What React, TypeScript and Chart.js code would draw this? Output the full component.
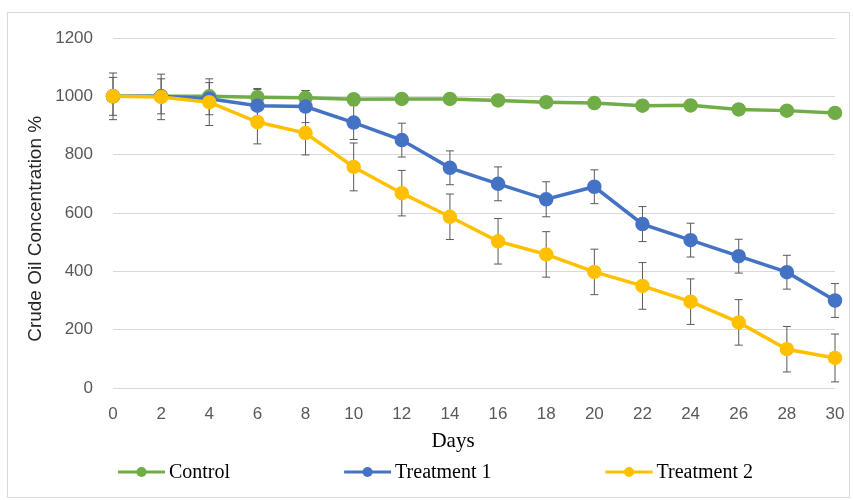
import React, { useEffect, useRef } from "react";
import { Chart, registerables } from "chart.js";

Chart.register(...registerables);

const days = ["0", "2", "4", "6", "8", "10", "12", "14", "16", "18", "20", "22", "24", "26", "28", "30"];
const controlValues = [1000, 1000, 1000, 997, 995, 990, 991, 991, 986, 980, 977, 968, 969, 955, 951, 943];
const controlErrors = [15, 15, 15, 30, 25, 12, 12, 12, 12, 12, 12, 12, 12, 12, 12, 12];
const treatment1Values = [1000, 1000, 992, 968, 965, 910, 850, 755, 700, 647, 690, 562, 507, 452, 397, 300];
const treatment1Errors = [65, 60, 55, 55, 55, 58, 58, 58, 58, 60, 58, 60, 58, 58, 58, 58];
const treatment2Values = [1000, 998, 980, 912, 874, 758, 668, 587, 503, 458, 398, 350, 296, 225, 133, 103];
const treatment2Errors = [80, 78, 80, 75, 75, 82, 78, 78, 78, 78, 78, 80, 78, 78, 78, 82];
const yTicks = [0, 200, 400, 600, 800, 1000, 1200];

const seriesNames = ["Control", "Treatment 1", "Treatment 2"];
const seriesColors = ["#70AD47", "#4472C4", "#FFC000"];

const SERIF = "'Liberation Serif', 'Times New Roman', serif";
const SANS = "'Liberation Sans', Arial, sans-serif";

const errorBarPlugin = {
  id: "errorBars",
  beforeDatasetsDraw(chart: any) {
    const { ctx } = chart;
    const yScale = chart.scales.y;
    chart.data.datasets.forEach((ds: any, i: number) => {
      const meta = chart.getDatasetMeta(i);
      const errs: number[] = ds.errors || [];
      meta.data.forEach((pt: any, j: number) => {
        const v = ds.data[j];
        const e = errs[j] || 0;
        const top = yScale.getPixelForValue(v + e);
        const bot = yScale.getPixelForValue(v - e);
        const x = pt.x;
        ctx.save();
        ctx.strokeStyle = "#595959";
        ctx.lineWidth = 1;
        ctx.beginPath();
        ctx.moveTo(x, top);
        ctx.lineTo(x, bot);
        ctx.moveTo(x - 4, top);
        ctx.lineTo(x + 4, top);
        ctx.moveTo(x - 4, bot);
        ctx.lineTo(x + 4, bot);
        ctx.stroke();
        ctx.restore();
      });
    });
  },
};

const legendPlugin = {
  id: "customLegend",
  afterDraw(chart: any) {
    const { ctx } = chart;
    const lineLen = 47;
    const textGap = 4;
    const itemGap = 114;
    ctx.save();
    ctx.font = `20px ${SERIF}`;
    const items = chart.data.datasets.map((ds: any) => ({
      label: ds.label,
      color: ds.borderColor,
      w: lineLen + textGap + ctx.measureText(ds.label).width,
    }));
    const total = items.reduce((s: number, it: any) => s + it.w, 0) + itemGap * (items.length - 1);
    let x = chart.width / 2 + 7 - total / 2;
    const y = chart.height - 25;
    items.forEach((it: any) => {
      ctx.strokeStyle = it.color;
      ctx.lineWidth = 3;
      ctx.beginPath();
      ctx.moveTo(x, y);
      ctx.lineTo(x + lineLen, y);
      ctx.stroke();
      ctx.fillStyle = it.color;
      ctx.beginPath();
      ctx.arc(x + lineLen / 2, y, 5, 0, Math.PI * 2);
      ctx.fill();
      ctx.fillStyle = "#000000";
      ctx.textAlign = "left";
      ctx.textBaseline = "middle";
      ctx.fillText(it.label, x + lineLen + textGap, y + 1);
      x += it.w + itemGap;
    });
    ctx.restore();
  },
};

export default function App() {
  const canvasRef = useRef<HTMLCanvasElement | null>(null);

  useEffect(() => {
    if (!canvasRef.current) return;
    const valuesList = [controlValues, treatment1Values, treatment2Values];
    const errorsList = [controlErrors, treatment1Errors, treatment2Errors];
    const chart = new Chart(canvasRef.current, {
      type: "line",
      data: {
        labels: days,
        datasets: seriesNames.map((name, i) => ({
          label: name,
          data: valuesList[i],
          errors: errorsList[i],
          borderColor: seriesColors[i],
          backgroundColor: seriesColors[i],
          pointBackgroundColor: seriesColors[i],
          pointBorderColor: seriesColors[i],
          borderWidth: 3.5,
          pointRadius: 5.5,
          pointHoverRadius: 5.5,
          tension: 0,
          fill: false,
          order: 3 - i,
        })) as any,
      },
      options: {
        animation: false,
        responsive: false,
        layout: { padding: { left: 10, top: 25, right: 14, bottom: 40 } },
        plugins: {
          legend: { display: false },
          tooltip: { enabled: false },
        },
        scales: {
          x: {
            type: "category",
            offset: false,
            grid: { display: false, drawTicks: false },
            border: { display: false },
            ticks: {
              color: "#595959",
              font: { family: SANS, size: 17 },
              padding: 16,
              maxRotation: 0,
              autoSkip: false,
            },
            title: {
              display: true,
              text: "Days        ",
              color: "#000000",
              font: { family: SERIF, size: 21 },
              padding: { top: 2, bottom: 3 },
            },
            afterFit: (scale: any) => {
              scale.height = 69;
              scale.paddingLeft = 0;
              scale.paddingRight = 0;
            },
          },
          y: {
            min: 0,
            max: 1200,
            afterBuildTicks: (scale: any) => {
              scale.ticks = yTicks.map((v) => ({ value: v }));
            },
            grid: { color: "#d9d9d9", lineWidth: 1, drawTicks: false },
            border: { display: false },
            ticks: {
              color: "#595959",
              font: { family: SANS, size: 17 },
              padding: 20,
              callback: (value: any) => String(value),
            },
            title: {
              display: true,
              text: "Crude Oil Concentration %      ",
              color: "#262626",
              font: { family: SANS, size: 19 },
              padding: { top: 6, bottom: 4 },
            },
            afterFit: (scale: any) => {
              scale.width = 95;
              scale.paddingTop = 0;
              scale.paddingBottom = 0;
            },
          },
        },
      } as any,
      plugins: [errorBarPlugin, legendPlugin],
    });
    return () => chart.destroy();
  }, []);

  return (
    <div style={{ position: "absolute", left: 0, top: 0, width: 853, height: 500, background: "#ffffff" }}>
      <div
        style={{
          position: "absolute",
          left: 7,
          top: 12,
          width: 843,
          height: 486,
          boxSizing: "border-box",
          border: "1px solid #d9d9d9",
        }}
      >
        <canvas ref={canvasRef} width={841} height={484} style={{ display: "block", width: 841, height: 484 }} />
      </div>
    </div>
  );
}
